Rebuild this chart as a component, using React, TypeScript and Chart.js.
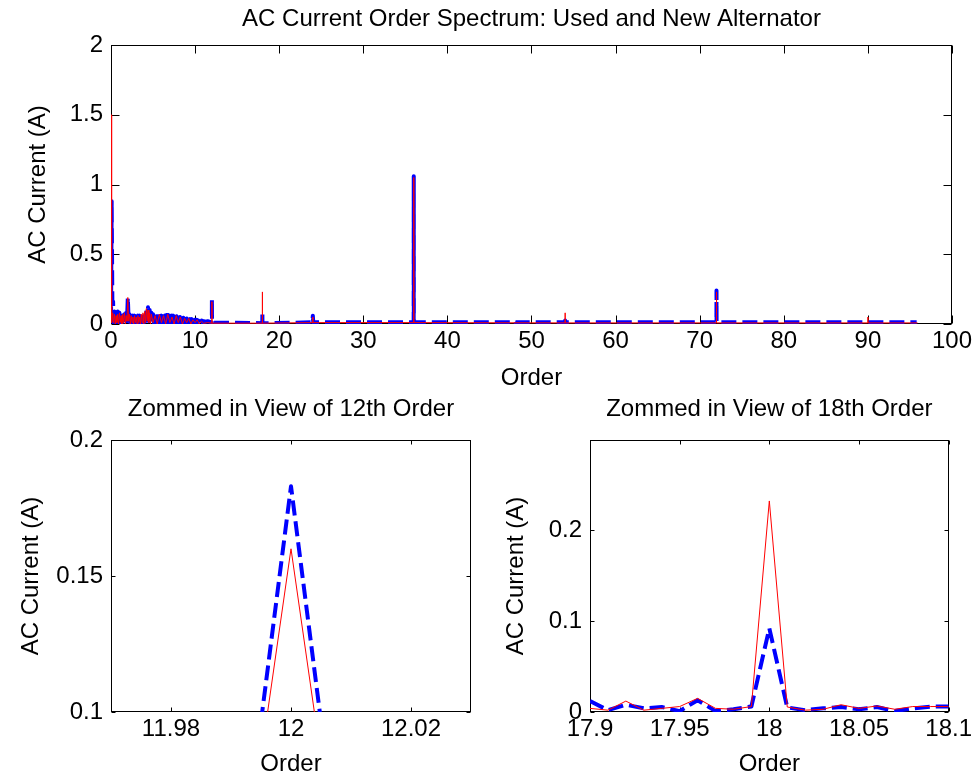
import React, { useEffect, useRef } from 'react';
import { Chart, registerables } from 'chart.js';

Chart.register(...registerables);

const FONT = "'Liberation Sans', Arial, Helvetica, sans-serif";
const FONT_SIZE = 24;

// ---------- Top plot: full order spectrum ----------
const topTitle = 'AC Current Order Spectrum: Used and New Alternator';
const topXTicks = [0, 10, 20, 30, 40, 50, 60, 70, 80, 90, 100];
const topYTicks = [0, 0.5, 1, 1.5, 2];

// Used alternator (thin red)
const usedOrders = [
  0, 0.05, 0.1, 0.2, 0.3, 0.4, 0.5, 0.6, 0.7, 0.8, 0.9, 1.0, 1.1, 1.2, 1.3, 1.4, 1.5, 1.6, 1.7, 1.8, 1.9,
  2.0, 2.1, 2.2, 2.3, 2.4, 2.5, 2.6, 2.7, 2.8, 2.9, 3.0, 3.1, 3.2, 3.3, 3.4, 3.5, 3.6, 3.7, 3.8, 3.9,
  4.0, 4.1, 4.2, 4.3, 4.4, 4.5, 4.6, 4.7, 4.8,
  5.0, 5.25, 5.5, 5.75, 6.0, 6.25, 6.5, 6.75, 7.0, 7.25, 7.5, 7.75, 8.0, 8.25, 8.5, 8.75, 9.0, 9.25, 9.5, 9.75,
  10.0, 10.25, 10.5, 10.75, 11.0, 11.5,
  11.99, 12.0, 12.01, 17.99, 18.0, 18.01, 23.99, 24.0, 24.01, 35.99, 36.0, 36.01,
  53.99, 54.0, 54.01, 71.99, 72.0, 72.01, 89.99, 90.0, 90.01, 95.9,
];
const usedAmps = [
  1.5, 0.17, 0.01, 0.08, 0.01, 0.07, 0.0, 0.06, 0.01, 0.07, 0.0, 0.08, 0.01, 0.06, 0.0, 0.07, 0.01, 0.08, 0.0, 0.06, 0.02,
  0.19, 0.02, 0.07, 0.0, 0.06, 0.01, 0.05, 0.0, 0.06, 0.01, 0.05, 0.0, 0.06, 0.01, 0.05, 0.0, 0.07, 0.01, 0.08, 0.0,
  0.09, 0.01, 0.11, 0.02, 0.1, 0.01, 0.08, 0.0, 0.07,
  0.01, 0.06, 0.0, 0.07, 0.01, 0.06, 0.0, 0.07, 0.01, 0.05, 0.0, 0.06, 0.01, 0.05, 0.0, 0.04, 0.01, 0.04, 0.0, 0.03,
  0.01, 0.03, 0.0, 0.02, 0.005, 0.01,
  0.006, 0.16, 0.006, 0.006, 0.23, 0.006, 0.01, 0.05, 0.01, 0.01, 1.05, 0.01,
  0.008, 0.08, 0.008, 0.008, 0.23, 0.008, 0.008, 0.05, 0.008, 0.008,
];

// New alternator (thick blue dashed)
const newOrders = [
  0, 0.08, 0.16, 0.25,
  0.3, 0.4, 0.5, 0.6, 0.7, 0.8, 0.9, 1.0, 1.1, 1.2, 1.3, 1.4, 1.5, 1.6, 1.7, 1.8, 1.9,
  2.0, 2.1, 2.2, 2.3, 2.4, 2.5, 2.6, 2.7, 2.8, 2.9, 3.0, 3.1, 3.2, 3.3, 3.4, 3.5, 3.6, 3.7, 3.8, 3.9,
  4.0, 4.1, 4.2, 4.3, 4.4, 4.5, 4.6, 4.7, 4.8, 4.9, 5.0, 5.1, 5.2, 5.3, 5.4, 5.5, 5.6, 5.7, 5.8, 5.9,
  6.0, 6.1, 6.2, 6.3, 6.4, 6.5, 6.6, 6.7, 6.8, 6.9, 7.0, 7.1, 7.2, 7.3, 7.4, 7.5, 7.6, 7.7, 7.8, 7.9,
  8.0, 8.1, 8.2, 8.3, 8.4, 8.5, 8.6, 8.7, 8.8, 8.9, 9.0, 9.1, 9.2, 9.3, 9.4, 9.5, 9.6, 9.7, 9.8, 9.9,
  10.0, 10.1, 10.2, 10.3, 10.4, 10.5, 10.6, 10.7, 10.8, 10.9, 11.0,
  11.2, 11.5, 11.8, 11.99, 12.0, 12.01, 17.99, 18.0, 18.01, 23.95, 24.0, 24.05, 35.99, 36.0, 36.01,
  47.9, 48.0, 48.1, 53.95, 54.0, 54.05, 71.99, 72.0, 72.01, 95.8,
];
const newAmps = [
  0.02, 0.88, 0.17, 0.16,
  0.01, 0.09, 0.01, 0.08, 0.01, 0.09, 0.01, 0.08, 0.01, 0.07, 0.01, 0.06, 0.01, 0.07, 0.01, 0.08, 0.02,
  0.19, 0.02, 0.07, 0.01, 0.06, 0.01, 0.06, 0.01, 0.06, 0.01, 0.055, 0.01, 0.06, 0.01, 0.06, 0.01, 0.07, 0.01, 0.08, 0.01,
  0.09, 0.02, 0.11, 0.03, 0.12, 0.02, 0.1, 0.01, 0.08, 0.01, 0.07, 0.01, 0.055, 0.01, 0.055, 0.01, 0.055, 0.01, 0.055, 0.01,
  0.06, 0.01, 0.06, 0.01, 0.06, 0.01, 0.065, 0.01, 0.065, 0.01, 0.06, 0.01, 0.06, 0.01, 0.06, 0.01, 0.055, 0.01, 0.055, 0.01,
  0.05, 0.01, 0.05, 0.01, 0.045, 0.01, 0.045, 0.01, 0.045, 0.01, 0.04, 0.01, 0.04, 0.01, 0.035, 0.01, 0.035, 0.01, 0.03, 0.01,
  0.03, 0.01, 0.03, 0.01, 0.025, 0.01, 0.025, 0.01, 0.025, 0.01, 0.02,
  0.015, 0.02, 0.015, 0.01, 0.18, 0.01, 0.006, 0.09, 0.005, 0.012, 0.06, 0.012, 0.012, 1.06, 0.012,
  0.012, 0.02, 0.012, 0.012, 0.025, 0.012, 0.012, 0.24, 0.012, 0.012,
];

// ---------- Bottom-left: zoom on 12th order ----------
const zoom12Title = 'Zommed in View of 12th Order';
const zoom12Orders = [11.97, 11.98, 11.99, 12.0, 12.01, 12.02, 12.03];
const zoom12Used = [0.005, 0.008, 0.006, 0.16, 0.006, 0.007, 0.005];
const zoom12New = [0.008, 0.01, 0.01, 0.183, 0.01, 0.009, 0.008];
const zoom12XTicks = [11.98, 12, 12.02];
const zoom12YTicks = [0.1, 0.15, 0.2];

// ---------- Bottom-right: zoom on 18th order ----------
const zoom18Title = 'Zommed in View of 18th Order';
const zoom18Orders = [
  17.9, 17.91, 17.92, 17.93, 17.94, 17.95, 17.96, 17.97, 17.98, 17.99, 18.0,
  18.01, 18.02, 18.03, 18.04, 18.05, 18.06, 18.07, 18.08, 18.09, 18.1,
];
const zoom18Used = [
  0.004, 0.002, 0.012, 0.002, 0.004, 0.006, 0.015, 0.004, 0.003, 0.006, 0.232,
  0.0055, 0.002, 0.003, 0.008, 0.004, 0.0066, 0.003, 0.006, 0.006, 0.006,
];
const zoom18New = [
  0.012, 0.002, 0.008, 0.004, 0.0055, 0.001, 0.013, 0.001, 0.003, 0.006, 0.092,
  0.005, 0.002, 0.004, 0.0055, 0.003, 0.0055, 0.001, 0.004, 0.006, 0.006,
];
const zoom18XTicks = [17.9, 17.95, 18, 18.05, 18.1];
const zoom18YTicks = [0, 0.1, 0.2];

const framePlugin = {
  id: 'frame',
  beforeDatasetsDraw(chart: any, _args: any, opts: any) {
    const { ctx, chartArea: a, scales } = chart;
    const len = opts.tickLen || 6;
    const L = Math.round(a.left) + 0.5;
    const R = Math.round(a.right) - 0.5;
    const T = Math.round(a.top) + 0.5;
    const B = Math.round(a.bottom) - 0.5;
    ctx.save();
    ctx.strokeStyle = '#000';
    ctx.lineWidth = 1;
    ctx.beginPath();
    scales.x.ticks.forEach((t: any) => {
      const px = Math.round(scales.x.getPixelForValue(t.value)) + 0.5;
      ctx.moveTo(px, B); ctx.lineTo(px, B - len);
      ctx.moveTo(px, T); ctx.lineTo(px, T + len);
    });
    scales.y.ticks.forEach((t: any) => {
      const py = Math.round(scales.y.getPixelForValue(t.value)) + 0.5;
      ctx.moveTo(L, py); ctx.lineTo(L + len, py);
      ctx.moveTo(R, py); ctx.lineTo(R - len, py);
    });
    ctx.stroke();
    ctx.strokeRect(L, T, R - L, B - T);
    ctx.restore();
  },
};

type Panel = {
  title: string;
  usedX: number[]; usedY: number[];
  newX: number[]; newY: number[];
  xMin: number; xMax: number; yMin: number; yMax: number;
  xTicks: number[]; yTicks: number[];
  yAxisWidth: number; xAxisHeight: number; padRight: number;
  titlePadTop: number; titlePadBottom: number;
  yTitlePad: number; xTitlePad: number; tickLen: number;
};

function buildConfig(p: Panel): any {
  const font = { family: FONT, size: FONT_SIZE, weight: 'normal' as const, lineHeight: 1 };
  return {
    type: 'line',
    data: {
      datasets: [
        {
          data: p.usedX.map((x, i) => ({ x, y: p.usedY[i] })),
          borderColor: '#ff0000', borderWidth: 1, borderJoinStyle: 'round',
          pointRadius: 0, tension: 0, clip: 0,
        },
        {
          data: p.newX.map((x, i) => ({ x, y: p.newY[i] })),
          borderColor: '#0000ff', borderWidth: 4, borderDash: [15, 6], borderJoinStyle: 'round',
          pointRadius: 0, tension: 0, clip: 0,
        },
      ],
    },
    options: {
      animation: false,
      responsive: false,
      events: [],
      layout: { padding: { left: 0, right: p.padRight, top: 0, bottom: 0 } },
      plugins: {
        legend: { display: false },
        tooltip: { enabled: false },
        title: {
          display: true, text: p.title, color: '#000', font, fullSize: false,
          padding: { top: p.titlePadTop, bottom: p.titlePadBottom },
        },
        frame: { tickLen: p.tickLen },
      },
      scales: {
        x: {
          type: 'linear', min: p.xMin, max: p.xMax,
          afterBuildTicks: (s: any) => { s.ticks = p.xTicks.map((v) => ({ value: v })); },
          afterFit: (s: any) => { s.height = p.xAxisHeight; },
          grid: { display: false, drawTicks: false },
          border: { display: false },
          ticks: { color: '#000', font, padding: 5, maxRotation: 0, autoSkip: false, callback: (v: any) => String(v) },
          title: { display: true, text: 'Order', color: '#000', font, padding: { top: 0, bottom: p.xTitlePad } },
        },
        y: {
          type: 'linear', min: p.yMin, max: p.yMax,
          afterBuildTicks: (s: any) => { s.ticks = p.yTicks.map((v) => ({ value: v })); },
          afterFit: (s: any) => { s.width = p.yAxisWidth; },
          grid: { display: false, drawTicks: false },
          border: { display: false },
          ticks: { color: '#000', font, padding: 8, autoSkip: false, callback: (v: any) => String(v) },
          title: { display: true, text: 'AC Current (A)', color: '#000', font, padding: { top: p.yTitlePad, bottom: 0 } },
        },
      },
    },
    plugins: [framePlugin],
  };
}

function ChartPanel({ panel, left, top, width, height }: { panel: Panel; left: number; top: number; width: number; height: number }) {
  const ref = useRef<HTMLCanvasElement | null>(null);
  useEffect(() => {
    if (!ref.current) return;
    const chart = new Chart(ref.current, buildConfig(panel));
    return () => chart.destroy();
  }, [panel]);
  return (
    <canvas
      ref={ref}
      width={width}
      height={height}
      style={{ position: 'absolute', left, top, width, height }}
    />
  );
}

const topPanel: Panel = {
  title: topTitle,
  usedX: usedOrders, usedY: usedAmps, newX: newOrders, newY: newAmps,
  xMin: 0, xMax: 100, yMin: 0, yMax: 2, xTicks: topXTicks, yTicks: topYTicks,
  yAxisWidth: 111, xAxisHeight: 66, padRight: 24,
  titlePadTop: 7, titlePadBottom: 14, yTitlePad: 26, xTitlePad: 0, tickLen: 8,
};

const leftPanel: Panel = {
  title: zoom12Title,
  usedX: zoom12Orders, usedY: zoom12Used, newX: zoom12Orders, newY: zoom12New,
  xMin: 11.97, xMax: 12.03, yMin: 0.1, yMax: 0.2, xTicks: zoom12XTicks, yTicks: zoom12YTicks,
  yAxisWidth: 111, xAxisHeight: 64, padRight: 17,
  titlePadTop: 7, titlePadBottom: 19, yTitlePad: 19, xTitlePad: 0, tickLen: 4,
};

const rightPanel: Panel = {
  title: zoom18Title,
  usedX: zoom18Orders, usedY: zoom18Used, newX: zoom18Orders, newY: zoom18New,
  xMin: 17.9, xMax: 18.1, yMin: 0, yMax: 0.299, xTicks: zoom18XTicks, yTicks: zoom18YTicks,
  yAxisWidth: 102, xAxisHeight: 64, padRight: 22,
  titlePadTop: 7, titlePadBottom: 19, yTitlePad: 16, xTitlePad: 0, tickLen: 4,
};

export default function App() {
  return (
    <div style={{ position: 'absolute', left: 0, top: 0, width: 977, height: 776, background: '#fff' }}>
      <ChartPanel panel={topPanel} left={0} top={0} width={977} height={390} />
      <ChartPanel panel={leftPanel} left={0} top={390} width={488} height={386} />
      <ChartPanel panel={rightPanel} left={488} top={390} width={489} height={386} />
    </div>
  );
}
